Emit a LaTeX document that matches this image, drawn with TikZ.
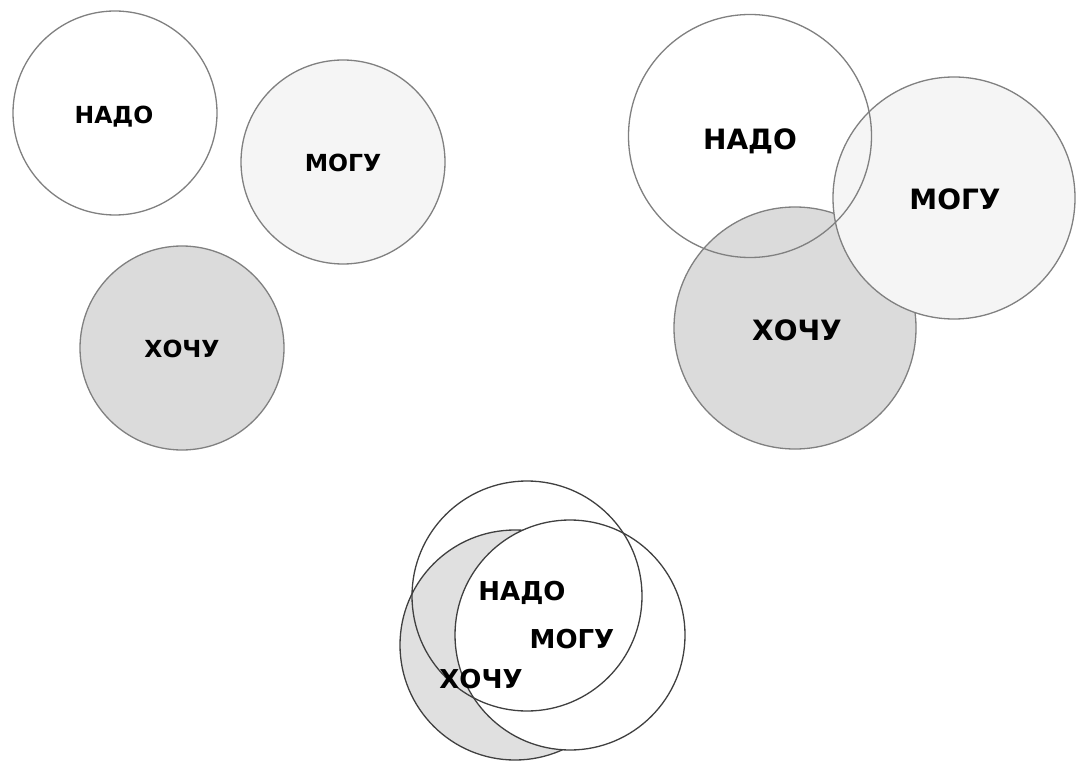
\documentclass[tikz,border=0pt]{standalone}
\usepackage{fontspec}
\setmainfont{DejaVu Sans}
\begin{document}
\begin{tikzpicture}[x=1pt,y=-1pt,
  disc/.style={circle,inner sep=0pt,minimum size=#1},
  rim/.style={draw=black!50,line width=1.3pt},
  rimdark/.style={draw=black!75,line width=1.3pt},
  lbl/.style={font=\bfseries\fontsize{#1}{#1}\selectfont,inner sep=0pt,anchor=base},
  white/.style={fill=white},
  light/.style={fill=black!4},
  grayf/.style={fill=black!14}]
\useasboundingbox[fill=white] (0,0) rectangle (1079,762);
% ---- top-left group
\node[disc=204pt,white,rim] (n1) at (115,113) {};
\node[disc=204pt,light,rim] (m1) at (343,162) {};
\node[disc=204pt,grayf,rim] (h1) at (182,348) {};
\node[lbl=23.5] (tn1) at (114,124) {НАДО};
\node[lbl=23.5] (tm1) at (343,172) {МОГУ};
\node[lbl=23.5] (th1) at (182,357) {ХОЧУ};
% ---- top-right group
\node[disc=243pt,white] (n2) at (750,136) {};
\node[disc=242pt,grayf,rim] (h2) at (795,328) {};
\node[disc=242pt,light,rim] (m2) at (954,198) {};
\draw[rim] (n2.center) circle[radius=121.5pt];
\node[lbl=28] (tn2) at (750,150) {НАДО};
\node[lbl=28] (tm2) at (955,210) {МОГУ};
\node[lbl=28] (th2) at (797,340) {ХОЧУ};
% ---- bottom group
\node[disc=230pt,white] (n3) at (527,596) {};
\node[disc=230pt,fill=black!12,rimdark] (h3) at (515,645) {};
\node[disc=230pt,white] (m3) at (570,635) {};
\draw[rimdark] (n3.center) circle[radius=115pt];
\draw[rimdark] (m3.center) circle[radius=115pt];
\node[lbl=26] (tn3) at (522,600) {НАДО};
\node[lbl=26] (tm3) at (572,648) {МОГУ};
\node[lbl=26] (th3) at (481,688) {ХОЧУ};
\end{tikzpicture}
\end{document}
